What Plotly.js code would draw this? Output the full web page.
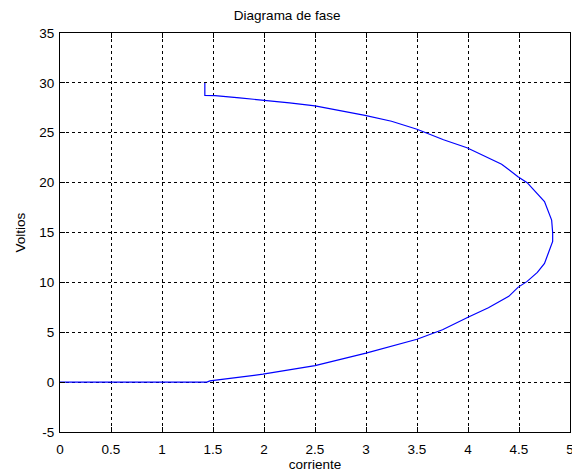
<!DOCTYPE html>
<html>
<head>
<meta charset="utf-8">
<script src="https://cdn.plot.ly/plotly-3.0.1.min.js"></script>
<style>
html,body{margin:0;padding:0;background:#fff;}
#chart{width:572px;height:475px;}
</style>
</head>
<body>
<div id="chart"></div>
<script>
// Phase trajectory: corriente (x) vs Voltios (y)
var corriente = [0, 1.44, 1.47, 1.7, 1.99, 2.5, 3.0, 3.5, 3.75, 4.0, 4.2, 4.4, 4.49, 4.58, 4.68, 4.75, 4.83, 4.83, 4.82, 4.75, 4.58, 4.49, 4.33, 3.99, 3.76, 3.5, 3.25, 2.99, 2.75, 2.5, 2.25, 1.99, 1.76, 1.52, 1.42, 1.42];
var voltios   = [0, 0, 0.12, 0.4, 0.8, 1.65, 2.9, 4.3, 5.25, 6.5, 7.45, 8.6, 9.5, 10.1, 11.0, 11.9, 14.1, 15.0, 16.25, 18.1, 20.0, 20.6, 21.85, 23.5, 24.3, 25.35, 26.15, 26.75, 27.25, 27.7, 28.0, 28.3, 28.5, 28.72, 28.75, 30];

var xTicks = [0, 0.5, 1, 1.5, 2, 2.5, 3, 3.5, 4, 4.5, 5];
var xTickText = ['0', '0.5', '1', '1.5', '2', '2.5', '3', '3.5', '4', '4.5', '5'];
var yTicks = [-5, 0, 5, 10, 15, 20, 25, 30, 35];
var yTickText = ['-5', '0', '5', '10', '15', '20', '25', '30', '35'];

var font = {family: 'Liberation Sans, Arial, sans-serif', size: 13.5, color: '#000'};

var trace = {
  x: corriente, y: voltios, type: 'scatter', mode: 'lines',
  line: {color: 'rgb(0,0,255)', width: 1.2},
  hoverinfo: 'skip'
};

var axisCommon = {
  showline: true, linecolor: '#000', linewidth: 1, mirror: 'ticks',
  ticks: 'inside', ticklen: 5, tickcolor: '#000', tickwidth: 1,
  showgrid: true, gridcolor: '#000', gridwidth: 1, griddash: '3px,3px',
  zeroline: false, tickfont: font, automargin: false
};

var layout = {
  width: 572, height: 475,
  margin: {l: 60, r: 2, t: 33, b: 43},
  paper_bgcolor: '#fff', plot_bgcolor: '#fff',
  font: font,
  showlegend: false,
  title: {text: 'Diagrama de fase', font: font, x: 0.502, xanchor: 'center', y: 0.968, yanchor: 'middle'},
  xaxis: Object.assign({}, axisCommon, {
    range: [0, 5], tickvals: xTicks, ticktext: xTickText,
    ticklabelstandoff: 5, ticklabeloverflow: 'allow',
    title: {text: 'corriente', font: font, standoff: 1}
  }),
  yaxis: Object.assign({}, axisCommon, {
    range: [-5, 35], tickvals: yTicks, ticktext: yTickText,
    ticklabelstandoff: 2,
    title: {text: 'Voltios', font: font, standoff: 10}
  })
};

Plotly.newPlot('chart', [trace], layout, {displayModeBar: false, staticPlot: true});
</script>
</body>
</html>
